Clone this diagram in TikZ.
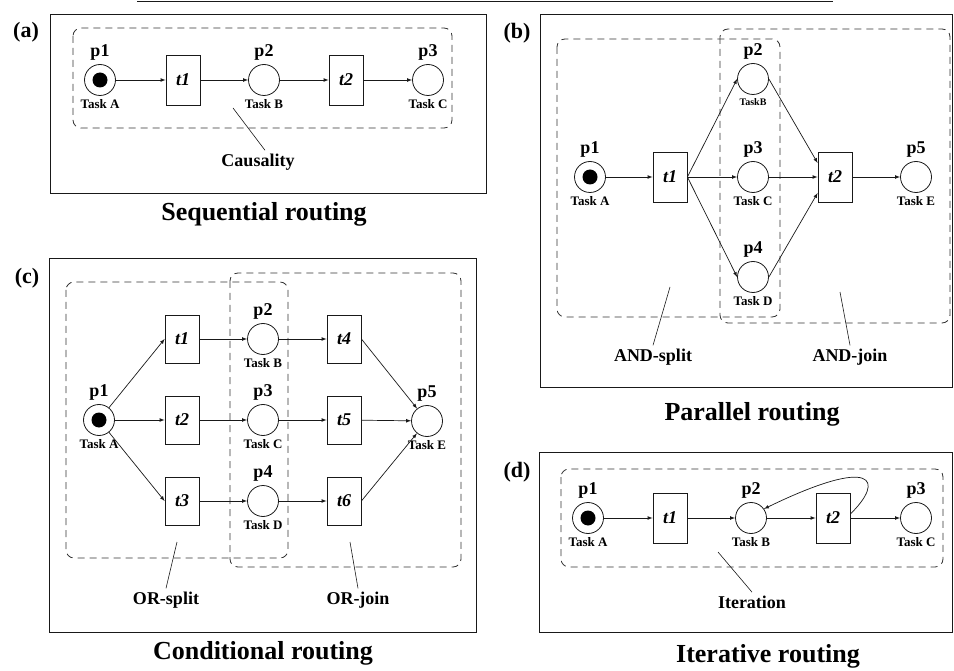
\documentclass[tikz,border=0pt]{standalone}
\usepackage{fontspec}
\setmainfont{Liberation Serif}
\usepackage{tikz}
\definecolor{linegray}{RGB}{25,25,25}
\definecolor{dashgray}{RGB}{50,50,50}

\begin{document}
\begin{tikzpicture}[
        x=1pt, y=-1pt,
        >=latex,
        place/.style={circle, draw=linegray, line width=0.8pt, minimum size=31pt, inner sep=0pt, label distance=3pt},
        marked/.style={place, path picture={\fill[black] (path picture bounding box.center) circle (7.5pt);}},
        trans/.style={rectangle, draw=linegray, line width=0.8pt, minimum width=34pt, minimum height=50pt, inner sep=0pt, font=\bfseries\itshape\fontsize{18}{20}\selectfont},
        pname/.style={font=\bfseries\fontsize{18}{20}\selectfont},
        tname/.style={font=\bfseries\fontsize{13}{15}\selectfont},
        arc/.style={->, line width=0.7pt, color=linegray},
        panel/.style={draw=linegray, line width=0.9pt},
        group/.style={draw=dashgray, line width=0.8pt, dash pattern=on 7pt off 5pt, rounded corners=8pt},
        tag/.style={font=\bfseries\fontsize{22}{24}\selectfont},
        caption/.style={font=\bfseries\fontsize{26}{28}\selectfont},
        note/.style={font=\bfseries\fontsize{18}{20}\selectfont},
        pointer/.style={line width=0.6pt, color=linegray}
    ]
    \useasboundingbox (0,0) rectangle (954,671);

    % Frames
    \draw[panel] (137,1) -- (833,1);
    \draw[panel] (50,14) rectangle (486,193);
    \draw[panel] (540,14) rectangle (952,387);
    \draw[panel] (49,258) rectangle (476,632);
    \draw[panel] (539,452) rectangle (952,632);
    \node[tag] (a_tag) at (26,32) {(a)};
    \node[tag] (b_tag) at (517,33) {(b)};
    \node[tag] (c_tag) at (27,278) {(c)};
    \node[tag] (d_tag) at (517,472) {(d)};

    % (a) Sequential routing
    \draw[group] (73,28) rectangle (452,128);
    \node[marked, label={[pname]above:p1}, label={[tname]below:Task A}] (a_p1) at (100,80) {};
    \node[trans] (a_t1) at (183,80) {t1};
    \node[place, label={[pname]above:p2}, label={[tname]below:Task B}] (a_p2) at (264,80) {};
    \node[trans] (a_t2) at (346,80) {t2};
    \node[place, label={[pname]above:p3}, label={[tname]below:Task C}] (a_p3) at (428,80) {};
    \draw[arc] (a_p1) -- (a_t1);
    \draw[arc] (a_t1) -- (a_p2);
    \draw[arc] (a_p2) -- (a_t2);
    \draw[arc] (a_t2) -- (a_p3);
    \coordinate (a_cz) at (233,108);
    \node[note] (a_caus) at (258,162) {Causality};
    \draw[pointer] (a_cz) -- ([xshift=7pt]a_caus.north);
    \node[caption] (a_title) at (264,214) {Sequential routing};

    % (b) Parallel routing
    \draw[group] (557,39) rectangle (780,317);
    \draw[group] (720,29) rectangle (950,323);
    \node[marked, label={[pname]above:p1}, label={[tname]below:Task A}] (b_p1) at (590,177) {};
    \node[trans] (b_t1) at (670,177) {t1};
    \node[place, label={[pname]above:p2}, label={[tname, font=\bfseries\fontsize{10}{12}\selectfont]below:TaskB}] (b_p2) at (753,79) {};
    \node[place, label={[pname]above:p3}, label={[tname]below:Task C}] (b_p3) at (753,177) {};
    \node[place, label={[pname]above:p4}, label={[tname]below:Task D}] (b_p4) at (753,277) {};
    \node[trans] (b_t2) at (835,177) {t2};
    \node[place, label={[pname]above:p5}, label={[tname]below:Task E}] (b_p5) at (916,177) {};
    \draw[arc] (b_p1) -- (b_t1);
    \draw[arc] (b_t1.east) -- (b_p2.west);
    \draw[arc] (b_t1) -- (b_p3);
    \draw[arc] (b_t1.east) -- (b_p4.west);
    \draw[arc] (b_p2.east) -- ([yshift=14pt]b_t2.west);
    \draw[arc] (b_p3) -- (b_t2);
    \draw[arc] (b_p4.east) -- ([yshift=-16pt]b_t2.west);
    \draw[arc] (b_t2) -- (b_p5);
    \coordinate (b_sp) at (670,287);
    \coordinate (b_jn) at (840,292);
    \node[note] (b_split) at (653,357) {AND-split};
    \node[note] (b_join) at (850,357) {AND-join};
    \draw[pointer] (b_sp) -- (b_split.north);
    \draw[pointer] (b_jn) -- (b_join.north);
    \node[caption] (b_title) at (752,414) {Parallel routing};

    % (c) Conditional routing
    \draw[group] (66,282) rectangle (288,558);
    \draw[group] (230,273) rectangle (461,567);
    \node[marked, label={[pname]above:p1}, label={[tname]below:Task A}] (c_p1) at (99,420) {};
    \node[trans, minimum height=48pt] (c_t1) at (182,339) {t1};
    \node[trans, minimum height=48pt] (c_t2) at (182,420) {t2};
    \node[trans, minimum height=48pt] (c_t3) at (182,501) {t3};
    \node[place, label={[pname]above:p2}, label={[tname]below:Task B}] (c_p2) at (263,339) {};
    \node[place, label={[pname]above:p3}, label={[tname]below:Task C}] (c_p3) at (263,420) {};
    \node[place, label={[pname]above:p4}, label={[tname]below:Task D}] (c_p4) at (263,501) {};
    \node[trans, minimum height=48pt] (c_t4) at (344,339) {t4};
    \node[trans, minimum height=48pt] (c_t5) at (344,420) {t5};
    \node[trans, minimum height=48pt] (c_t6) at (344,501) {t6};
    \node[place, label={[pname]above:p5}, label={[tname]below:Task E}] (c_p5) at (427,421) {};
    \draw[arc] (c_p1) -- (c_t1.west);
    \draw[arc] (c_p1) -- (c_t2);
    \draw[arc] (c_p1) -- (c_t3.west);
    \draw[arc] (c_t1) -- (c_p2);
    \draw[arc] (c_t2) -- (c_p3);
    \draw[arc] (c_t3) -- (c_p4);
    \draw[arc] (c_p2) -- (c_t4);
    \draw[arc] (c_p3) -- (c_t5);
    \draw[arc] (c_p4) -- (c_t6);
    \draw[arc] (c_t4.east) -- (c_p5);
    \draw[arc] (c_t5) -- (c_p5);
    \draw[arc] (c_t6.east) -- (c_p5);
    \coordinate (c_sp) at (177,542);
    \coordinate (c_jn) at (350,542);
    \node[note] (c_split) at (166,600) {OR-split};
    \node[note] (c_join) at (358,600) {OR-join};
    \draw[pointer] (c_sp) -- (c_split.north);
    \draw[pointer] (c_jn) -- (c_join.north);
    \node[caption] (c_title) at (263,653) {Conditional routing};

    % (d) Iterative routing
    \draw[group] (561,469) rectangle (943,567);
    \node[marked, label={[pname]above:p1}, label={[tname]below:Task A}] (d_p1) at (588,518) {};
    \node[trans] (d_t1) at (670,518) {t1};
    \node[place, label={[pname]above:p2}, label={[tname]below:Task B}] (d_p2) at (751,518) {};
    \node[trans] (d_t2) at (833,518) {t2};
    \node[place, label={[pname]above:p3}, label={[tname]below:Task C}] (d_p3) at (916,518) {};
    \draw[arc] (d_p1) -- (d_t1);
    \draw[arc] (d_t1) -- (d_p2);
    \draw[arc] (d_p2) -- (d_t2);
    \draw[arc] (d_t2) -- (d_p3);
    \draw[arc] ([yshift=4pt]d_t2.east) .. controls (885,480) and (875,455) .. (d_p2.35);
    \coordinate (d_it) at (718,552);
    \node[note] (d_iter) at (752,602) {Iteration};
    \draw[pointer] (d_it) -- (d_iter.north);
    \node[caption] (d_title) at (768,656) {Iterative routing};

\end{tikzpicture}
\end{document}
